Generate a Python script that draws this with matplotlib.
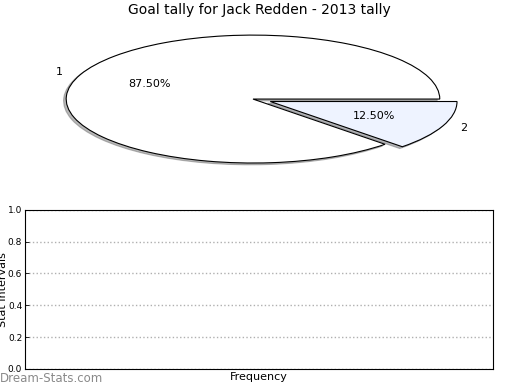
import matplotlib
matplotlib.use("Agg")
import matplotlib.pyplot as plt

# goals per game and how many games
goal_labels = ["1", "2"]
game_counts = [7, 1]
slice_colors = ["#ffffff", "#eef3ff"]
explode = [0, 0.1]

y_ticks = [0.0, 0.2, 0.4, 0.6, 0.8, 1.0]

fig = plt.figure(figsize=(5.2, 3.9), dpi=100)

# pie at the top, squashed (no equal aspect, like old matplotlib)
ax1 = fig.add_axes([0.0375, 0.541, 0.898, 0.41])
ax1.pie(
    game_counts,
    labels=goal_labels,
    colors=slice_colors,
    explode=explode,
    autopct="%1.2f%%",
    shadow={"ox": -0.01, "oy": -0.02, "shade": 0.55},
    startangle=0,
    wedgeprops={"linewidth": 0.8, "edgecolor": "black"},
    textprops={"fontsize": 8},
)
ax1.set_aspect("auto")
ax1.set_xlim(-1.25, 1.25)
ax1.set_ylim(-1.25, 1.25)
fig.text(0.499, 0.974, "Goal tally for Jack Redden - 2013 tally",
         fontsize=10, ha="center", va="center")

# empty stat axes below
ax2 = fig.add_axes([0.048, 0.054, 0.9, 0.408])
ax2.set_ylim(0, 1)
ax2.set_yticks(y_ticks)
ax2.set_yticklabels(["%.1f" % t for t in y_ticks], fontsize=6.5)
ax2.set_xticks([])
ax2.tick_params(axis="y", direction="in", length=3, width=0.6, pad=2)
ax2.yaxis.grid(True, linestyle=":", color="#b0b0b0", linewidth=1)
for s in ax2.spines.values():
    s.set_linewidth(0.8)
ax2.set_xlabel("Frequency", fontsize=8, labelpad=2)
ax2.set_ylabel("Stat Intervals", fontsize=8)
ax2.yaxis.set_label_coords(-0.036, 0.5)

fig.text(0.0, 0.012, "Dream-Stats.com", fontsize=8.5, color="#8a8a8a",
         ha="left", va="bottom")

fig.savefig("out.png", dpi=100)
